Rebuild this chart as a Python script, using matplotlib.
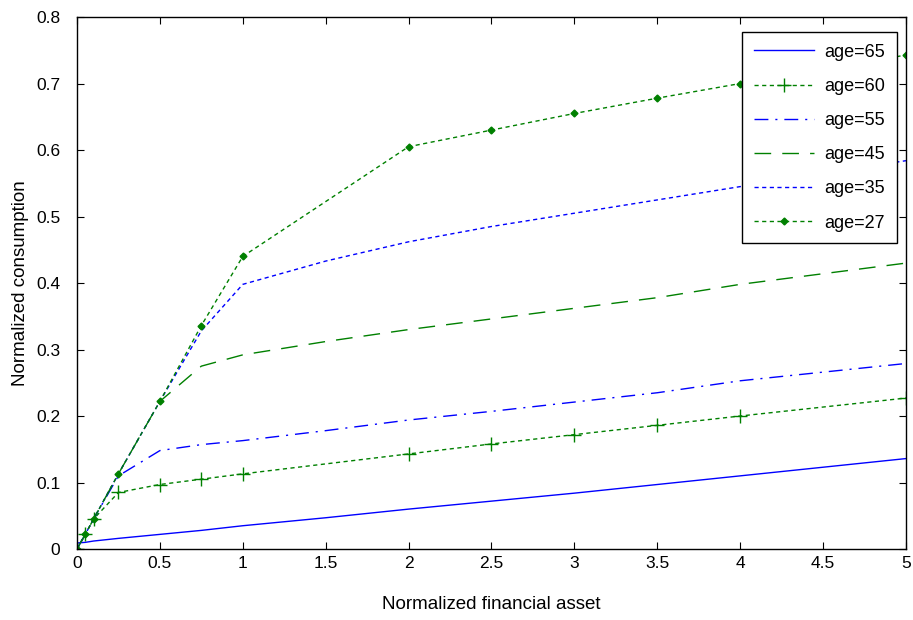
import numpy as np
import matplotlib
matplotlib.use("Agg")
import matplotlib.pyplot as plt

## data
x = [0, 0.05, 0.1, 0.25, 0.5, 0.75, 1, 1.5, 2, 2.5, 3, 3.5, 4, 4.5, 5]
x60 = [0, 0.05, 0.1, 0.25, 0.5, 0.75, 1, 2, 2.5, 3, 3.5, 4, 5]
x27 = [0, 0.05, 0.1, 0.25, 0.5, 0.75, 1, 2, 2.5, 3, 3.5, 4, 4.5, 5]

c65 = [0.009, 0.010, 0.012, 0.016, 0.022, 0.028, 0.035, 0.047, 0.060, 0.072, 0.084, 0.097, 0.110, 0.123, 0.136]
c60 = [0, 0.022, 0.045, 0.085, 0.097, 0.105, 0.113, 0.143, 0.158, 0.172, 0.186, 0.200, 0.227]
c55 = [0, 0.022, 0.045, 0.110, 0.148, 0.157, 0.163, 0.178, 0.194, 0.207, 0.221, 0.235, 0.253, 0.266, 0.279]
c45 = [0, 0.022, 0.045, 0.113, 0.222, 0.275, 0.292, 0.312, 0.330, 0.346, 0.362, 0.378, 0.398, 0.414, 0.430]
c35 = [0, 0.022, 0.045, 0.113, 0.222, 0.328, 0.398, 0.433, 0.462, 0.485, 0.505, 0.525, 0.545, 0.565, 0.584]
c27 = [0, 0.022, 0.045, 0.113, 0.222, 0.336, 0.440, 0.605, 0.630, 0.655, 0.678, 0.700, 0.720, 0.743]

labels = ["age=65", "age=60", "age=55", "age=45", "age=35", "age=27"]
xticks = [0, 0.5, 1, 1.5, 2, 2.5, 3, 3.5, 4, 4.5, 5]
yticks = [0, 0.1, 0.2, 0.3, 0.4, 0.5, 0.6, 0.7, 0.8]

blue = (0, 0, 1)
green = (0, 0.5, 0)

plt.rcParams['font.family'] = ['Liberation Sans', 'DejaVu Sans']

fig = plt.figure(figsize=(9.13, 6.2), dpi=100)
ax = fig.add_axes([0.0843, 0.1145, 0.908, 0.858])

ax.plot(x, c65, color=blue, lw=1.0, label=labels[0])
ax.plot(x60, c60, color=green, lw=1.0, dashes=(3, 2.5), marker='+', ms=10, mew=1.0, label=labels[1])
ax.plot(x, c55, color=blue, lw=1.0, dashes=(10, 5, 1.5, 5), label=labels[2])
ax.plot(x, c45, color=green, lw=1.0, dashes=(12, 8), label=labels[3])
ax.plot(x, c35, color=blue, lw=1.0, dashes=(3, 2.5), label=labels[4])
ax.plot(x27, c27, color=green, lw=1.0, dashes=(3, 2.5), marker='D', ms=3.5, label=labels[5])

ax.set_xlim(0, 5)
ax.set_ylim(0, 0.8)
ax.set_xticks(xticks)
ax.set_xticklabels([("%g" % v) for v in xticks])
ax.set_yticks(yticks)
ax.set_yticklabels([("%g" % v) for v in yticks])
ax.tick_params(direction='in', length=5, top=True, right=True, labelsize=12.5)
ax.tick_params(axis='y', pad=12)
ax.tick_params(axis='x', pad=5)
for s in ax.spines.values():
    s.set_linewidth(1.0)

ax.set_xlabel("Normalized financial asset", fontsize=13.5, labelpad=18)
ax.set_ylabel("Normalized consumption", fontsize=13.5, labelpad=5)

leg = ax.legend(loc="upper right", bbox_to_anchor=(1 - 9/829, 1 - 15/532), borderaxespad=0,
                fontsize=13, handlelength=3.3, handletextpad=0.6, borderpad=0.65,
                fancybox=False, framealpha=1, edgecolor='black', labelspacing=0.95)
leg.get_frame().set_linewidth(1.0)

fig.savefig("out.png", dpi=100)
